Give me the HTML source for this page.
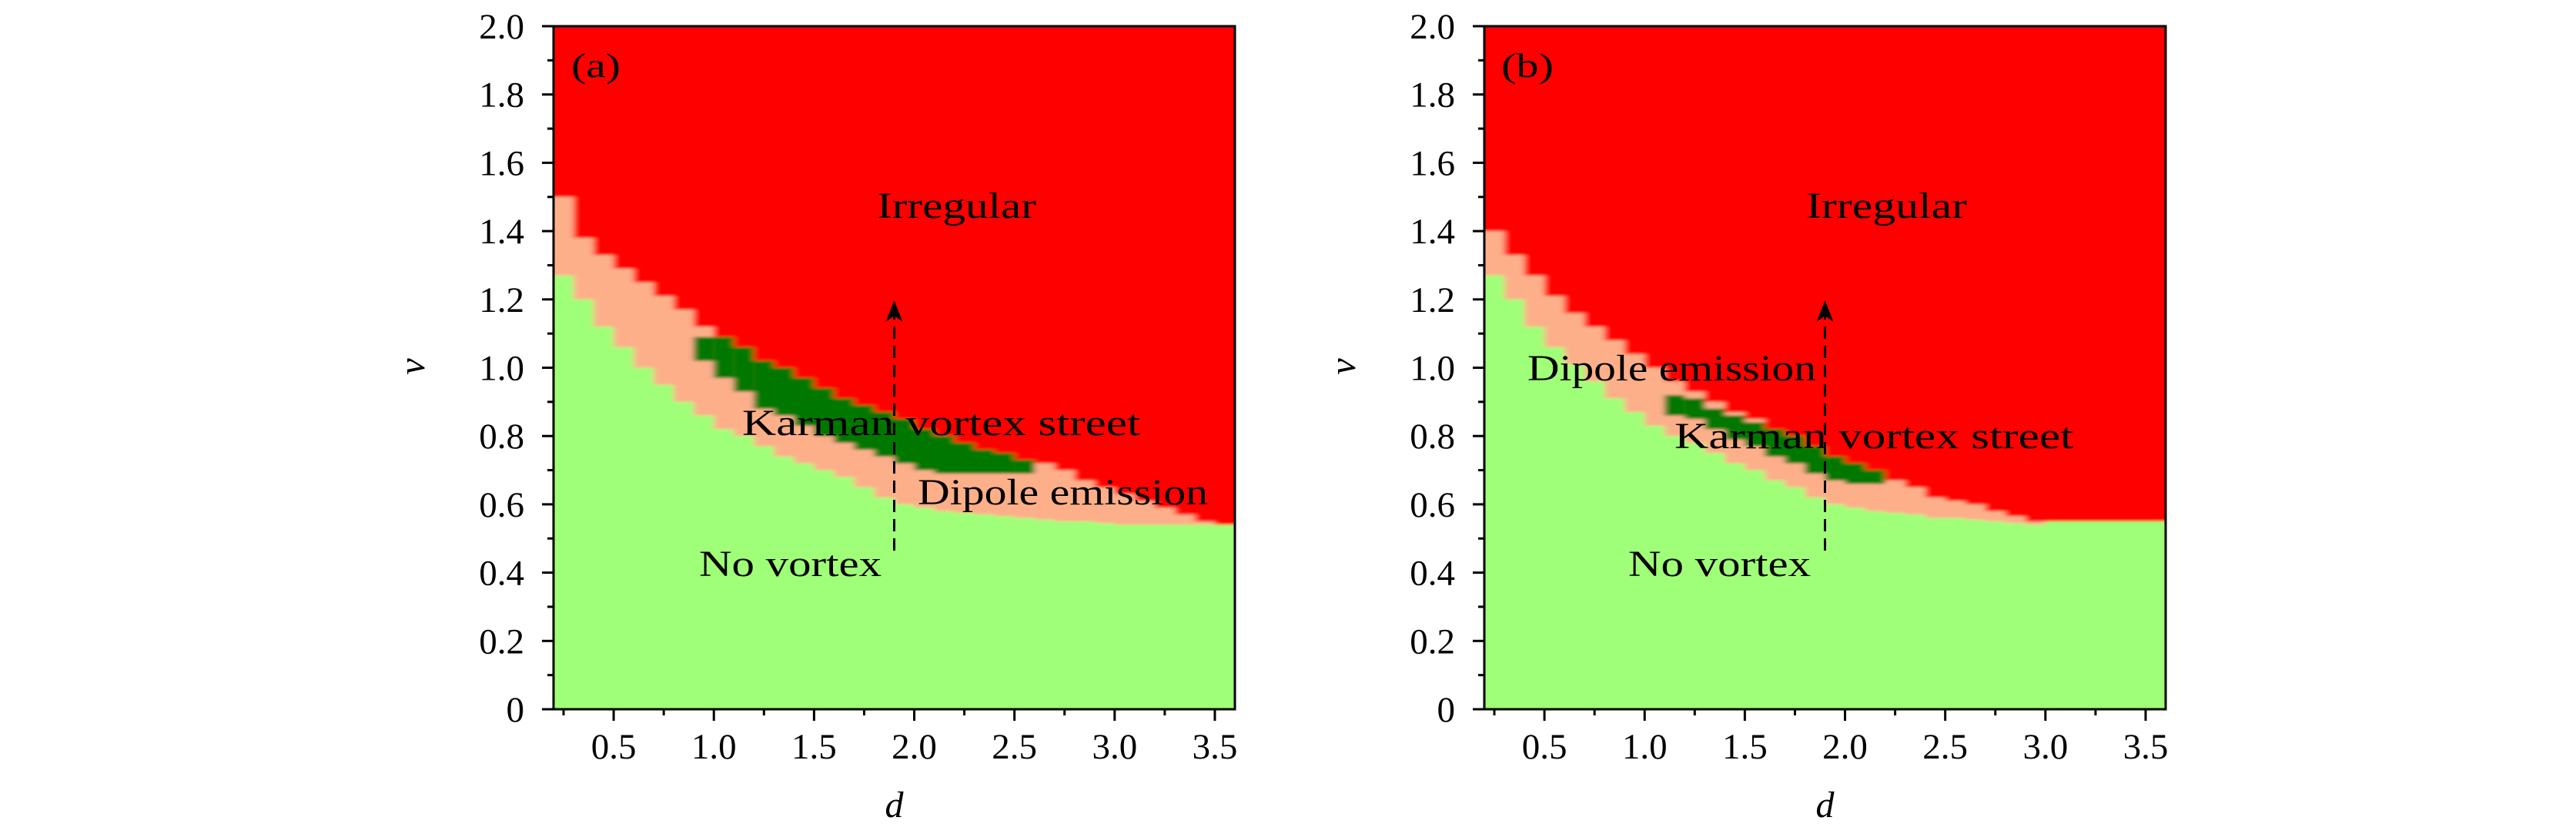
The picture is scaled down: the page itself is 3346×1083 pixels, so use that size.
<!DOCTYPE html>
<html><head><meta charset="utf-8"><style>
html,body{margin:0;padding:0;background:#fff;}
svg{display:block;font-family:"Liberation Serif","DejaVu Serif",serif;}
</style></head><body>
<svg id="fig" width="3346" height="1083" viewBox="0 0 3346 1083" xmlns="http://www.w3.org/2000/svg">
<defs>
<filter id="soft" x="-5%" y="-5%" width="110%" height="110%"><feGaussianBlur stdDeviation="4 1.5"/></filter>
<clipPath id="clipA"><rect x="719" y="34" width="885" height="887"/></clipPath>
<clipPath id="clipB"><rect x="1928" y="34" width="885" height="887"/></clipPath>
</defs>
<g id="panelA"></g>
<g id="panelB"></g>
</svg>
<script>
// d grid (column start positions)
const dGrid = [0.2,0.3,0.4,0.5,0.6,0.7,0.8,0.9,1.0,1.1,1.2,1.3,1.4,1.5,1.6,1.7,1.8,1.9,2.0,2.1,2.2,2.3,2.4,2.5,2.6,2.7,2.8,2.9,3.0,3.1,3.2,3.3,3.4,3.5,3.6];
// Panel (a): top of "No vortex" region
const noVortexA = [1.27,1.20,1.12,1.06,1.00,0.95,0.90,0.86,0.82,0.80,0.77,0.74,0.72,0.70,0.68,0.65,0.62,0.60,0.59,0.58,0.575,0.57,0.565,0.56,0.555,0.55,0.55,0.545,0.54,0.54,0.54,0.54,0.54,0.54,0.54];
// Panel (a): top of "Dipole emission" region (start of Irregular)
const dipoleA = [1.50,1.38,1.33,1.29,1.25,1.21,1.17,1.12,1.09,1.06,1.02,1.00,0.97,0.94,0.91,0.89,0.87,0.85,0.82,0.80,0.78,0.76,0.75,0.73,0.72,0.70,0.67,0.65,0.63,0.61,0.59,0.57,0.55,0.54,0.54];
// Panel (a): Karman vortex street band (null = absent)
const karmanLoA = [null,null,null,null,null,null,null,1.02,0.97,0.93,0.88,0.86,0.83,0.80,0.78,0.76,0.74,0.72,0.70,0.69,0.69,0.69,0.69,0.69,null,null,null,null,null,null,null,null,null,null,null];
const karmanHiA = [null,null,null,null,null,null,null,1.09,1.09,1.06,1.02,1.00,0.97,0.94,0.91,0.89,0.87,0.85,0.82,0.80,0.78,0.76,0.75,0.73,null,null,null,null,null,null,null,null,null,null,null];
// Panel (b)
const noVortexB = [1.27,1.20,1.12,1.06,1.01,0.96,0.91,0.87,0.83,0.80,0.78,0.75,0.72,0.70,0.67,0.65,0.62,0.60,0.59,0.58,0.575,0.57,0.56,0.56,0.555,0.55,0.545,0.54,0.55,0.55,0.55,0.55,0.55,0.55,0.55];
const dipoleB = [1.40,1.33,1.27,1.21,1.16,1.12,1.08,1.04,1.00,0.96,0.93,0.90,0.87,0.85,0.82,0.80,0.77,0.74,0.72,0.70,0.67,0.65,0.62,0.61,0.60,0.58,0.565,0.55,0.55,0.55,0.55,0.55,0.55,0.55,0.55];
const karmanLoB = [null,null,null,null,null,null,null,null,null,0.86,0.85,0.82,0.79,0.77,0.74,0.72,0.69,0.67,0.66,0.66,null,null,null,null,null,null,null,null,null,null,null,null,null,null,null];
const karmanHiB = [null,null,null,null,null,null,null,null,null,0.92,0.91,0.88,0.86,0.84,0.82,0.80,0.77,0.74,0.72,0.70,null,null,null,null,null,null,null,null,null,null,null,null,null,null,null];
// ticks
const xMajor = [0.5,1.0,1.5,2.0,2.5,3.0,3.5];
const xMajorLabels = ["0.5","1.0","1.5","2.0","2.5","3.0","3.5"];
const xMinor = [0.25,0.75,1.25,1.75,2.25,2.75,3.25];
const yMajor = [0,0.2,0.4,0.6,0.8,1.0,1.2,1.4,1.6,1.8,2.0];
const yMajorLabels = ["0","0.2","0.4","0.6","0.8","1.0","1.2","1.4","1.6","1.8","2.0"];
const yMinor = [0.1,0.3,0.5,0.7,0.9,1.1,1.3,1.5,1.7,1.9];

const NS = "http://www.w3.org/2000/svg";
const COL = {green:"#a0ff78", salmon:"#fdaf8a", red:"#ff0000", dark:"#007800"};
function mk(tag, attrs, parent){const e=document.createElementNS(NS,tag);for(const k in attrs)e.setAttribute(k,attrs[k]);parent.appendChild(e);return e;}

function drawPanel(root, left, clipId, nv, dp, klo, khi, labels){
  const top=34, W=885, H=887, bottom=top+H;
  const X = d => left + (d-0.2)/(3.6-0.2)*W;
  const Y = v => bottom - v/2*H;
  const clipG = mk("g",{"clip-path":"url(#"+clipId+")"},root);
  
  
  const hm = mk("g",{filter:"url(#soft)"},clipG);
  for(let i=0;i<dGrid.length;i++){
    let x0 = X(dGrid[i]), x1 = X(dGrid[i]+0.1);
    if(i===0) x0 -= 20;
    if(i===dGrid.length-1) x1 += 20;
    const w = x1-x0+0.6;
    const g = mk("rect",{x:x0,y:Y(nv[i]),width:w,height:Y(-0.05)-Y(nv[i]),fill:COL.green},hm);
    
    
    const s = mk("rect",{x:x0,y:Y(dp[i]),width:w,height:Math.max(0,Y(nv[i])-Y(dp[i])),fill:COL.salmon},hm);
    
    
    const r = mk("rect",{x:x0,y:Y(2.05),width:w,height:Y(dp[i])-Y(2.05),fill:COL.red},hm);
    
    
    if(klo[i]!==null){
      const k = mk("rect",{x:x0,y:Y(khi[i]),width:w,height:Y(klo[i])-Y(khi[i]),fill:COL.dark},hm);
      
      
    }
  }
  const fr = mk("rect",{x:left,y:top,width:W,height:H,fill:"none",stroke:"#000","stroke-width":3},root);
  
  
  xMajor.forEach((d,i)=>{
    const t = mk("line",{x1:X(d),x2:X(d),y1:bottom,y2:bottom+15,stroke:"#000","stroke-width":3},root);
    
    
    const l = mk("text",{x:X(d),y:985,"font-size":47,"text-anchor":"middle"},root);
    l.textContent = xMajorLabels[i];
    
    
  });
  xMinor.forEach(d=>{
    const t = mk("line",{x1:X(d),x2:X(d),y1:bottom,y2:bottom+8,stroke:"#000","stroke-width":3},root);
    
    
  });
  yMajor.forEach((v,i)=>{
    const t = mk("line",{x1:left-15,x2:left,y1:Y(v),y2:Y(v),stroke:"#000","stroke-width":3},root);
    
    
    const l = mk("text",{x:left-38,y:Y(v)+16,"font-size":47,"text-anchor":"end"},root);
    l.textContent = yMajorLabels[i];
    
    
  });
  yMinor.forEach(v=>{
    const t = mk("line",{x1:left-8,x2:left,y1:Y(v),y2:Y(v),stroke:"#000","stroke-width":3},root);
    
    
  });
  const xt = mk("text",{x:X(1.9),y:1061,"font-size":48,"font-style":"italic","text-anchor":"middle"},root);
  xt.textContent="d";
  
  
  const yx = left-168, yy = 476;
  const yt = mk("text",{x:yx,y:yy,"font-size":48,"font-style":"italic","text-anchor":"middle",transform:"rotate(-90 "+yx+" "+yy+")"},root);
  yt.textContent="v";
  
  
  labels.forEach(L=>{
    const t = mk("text",{x:L.x,y:L.y,"font-size":L.fs||48,textLength:L.w,lengthAdjust:"spacingAndGlyphs"},root);
    t.textContent=L.t;
    
    
  });
  const ax = X(1.9);
  const al = mk("line",{x1:ax,x2:ax,y1:715,y2:410,stroke:"#000","stroke-width":3,"stroke-dasharray":"16,9"},root);
  
  
  const ah = mk("path",{d:"M"+ax+" 390 L"+(ax-11)+" 418 L"+ax+" 410 L"+(ax+11)+" 418 Z",fill:"#000"},root);
  
  
}

drawPanel(document.getElementById("panelA"), 719, "clipA", noVortexA, dipoleA, karmanLoA, karmanHiA, [
  {t:"(a)", x:742, y:100, w:64, n:"panel-label-a", fs:44},
  {t:"Irregular", x:1139, y:283, w:207, n:"label-irregular"},
  {t:"Karman vortex street", x:964, y:565, w:517, n:"label-karman-vortex-street"},
  {t:"Dipole emission", x:1192, y:655, w:377, n:"label-dipole-emission"},
  {t:"No vortex", x:908, y:748, w:237, n:"label-no-vortex"}
]);
drawPanel(document.getElementById("panelB"), 1928, "clipB", noVortexB, dipoleB, karmanLoB, karmanHiB, [
  {t:"(b)", x:1950, y:100, w:68, n:"panel-label-b", fs:44},
  {t:"Irregular", x:2346, y:283, w:209, n:"label-irregular"},
  {t:"Dipole emission", x:1984, y:494, w:375, n:"label-dipole-emission"},
  {t:"Karman vortex street", x:2175, y:582, w:518, n:"label-karman-vortex-street"},
  {t:"No vortex", x:2115, y:748, w:237, n:"label-no-vortex"}
]);
</script>
</body></html>
